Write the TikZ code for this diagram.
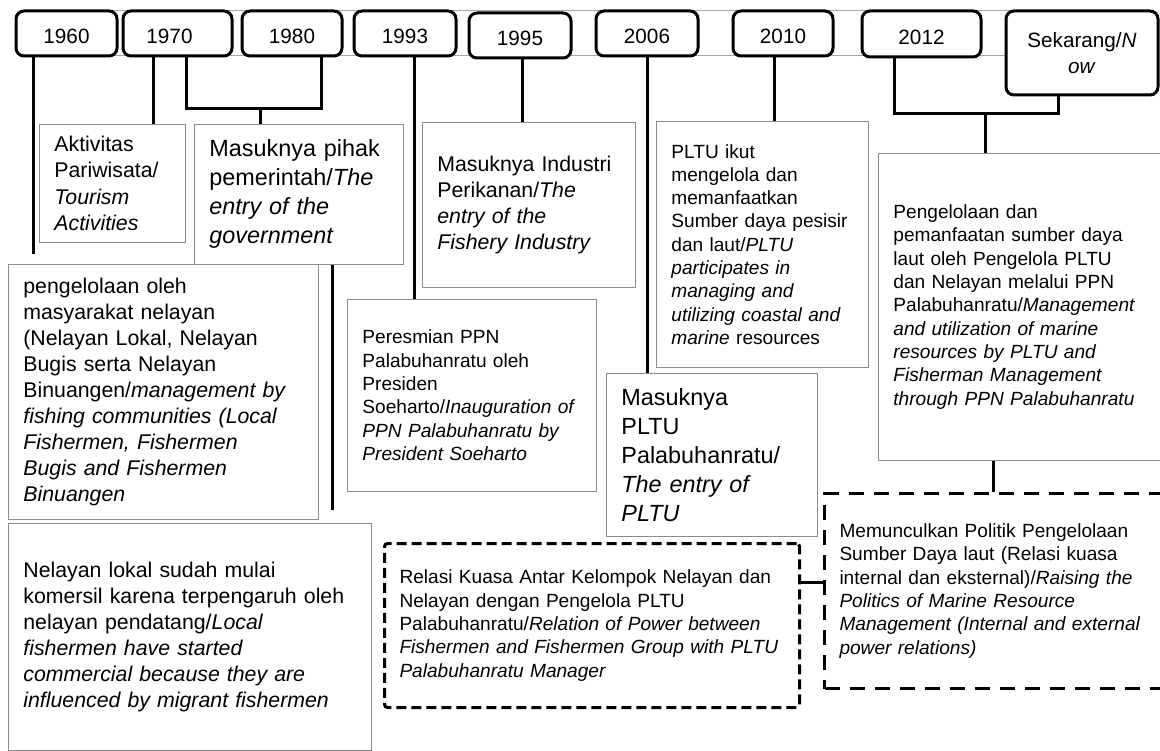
\documentclass[tikz,border=0pt]{standalone}
\usepackage{fontspec}
\setmainfont{Liberation Sans}
\newcommand{\yrfont}{\fontsize{20.7}{26}\selectfont}
\newcommand{\evsmall}{\fontsize{19.1}{23.3}\selectfont}
\newcommand{\evmid}{\fontsize{21.3}{26.1}\selectfont}
\newcommand{\evbig}{\fontsize{23.4}{29}\selectfont}

\begin{document}
\begin{tikzpicture}[
  x=1pt, y=-1pt,
  band/.style={draw=black!35, line width=0.8pt},
  yearbox/.style={draw, line width=3pt, rounded corners=8pt, fill=white, inner sep=0pt, font=\yrfont, align=center},
  yearnum/.style={yearbox, text height=21pt, text depth=0pt},
  eventbox/.style={draw=black!45, line width=0.8pt, fill=white, anchor=north west, inner xsep=15pt, inner ysep=0pt, align=left},
  dashbox/.style={eventbox, draw=black, line width=3pt, rounded corners=3pt},
  link/.style={line width=3pt}
]
\useasboundingbox (0,0) rectangle (1160,751);
\clip (0,0) rectangle (1160,751);

\draw[band] (60,10) rectangle (1010,55);

\node[yearnum, minimum width=101pt, minimum height=45pt] (y1960) at (66.5,33.5) {1960};
\node[yearnum, minimum width=109pt, minimum height=45pt] (y1970) at (177.5,33.5) {1970\hspace*{16pt}};
\node[yearnum, minimum width=100pt, minimum height=45pt] (y1980) at (292,33.5) {1980};
\node[yearnum, minimum width=102pt, minimum height=45pt] (y1993) at (405,33.5) {1993};
\node[yearnum, minimum width=102pt, minimum height=45pt] (y1995) at (520,35.5) {1995};
\node[yearnum, minimum width=102pt, minimum height=45pt] (y2006) at (647,33.5) {2006};
\node[yearnum, minimum width=100pt, minimum height=45pt] (y2010) at (783,33.5) {2010};
\node[yearnum, minimum width=119pt, minimum height=46pt] (y2012) at (921.5,34) {2012};
\node[yearbox, minimum width=152pt, minimum height=84pt] (ynow) at (1082,53) {Sekarang/\textit{N}\\\textit{ow}};

\node[eventbox, font=\evmid, text width=116pt, minimum width=146pt, minimum height=118pt] (aktivitas) at (39,124) {
  Aktivitas\\
  Pariwisata/\\
  \textit{Tourism}\\
  \textit{Activities}
};
\node[eventbox, font=\evbig, text width=179pt, minimum width=209pt, minimum height=140pt] (pihak) at (194,124) {
  Masuknya pihak\\
  pemerintah/\textit{The}\\
  \textit{entry of the}\\
  \textit{government}
};
\node[eventbox, font=\evmid, text width=280pt, minimum width=310pt, minimum height=255pt] (pengelola) at (8,264) {
  pengelolaan oleh\\
  masyarakat nelayan\\
  (Nelayan Lokal, Nelayan\\
  Bugis serta Nelayan\\
  Binuangen/\textit{management by}\\
  \textit{fishing communities (Local}\\
  \textit{Fishermen, Fishermen}\\
  \textit{Bugis and Fishermen}\\
  \textit{Binuangen}
};
\node[eventbox, font=\evmid, text width=333pt, minimum width=363pt, minimum height=227pt] (lokal) at (8,523) {
  Nelayan lokal sudah mulai\\
  komersil karena terpengaruh oleh\\
  nelayan pendatang/\textit{Local}\\
  \textit{fishermen have started}\\
  \textit{commercial because they are}\\
  \textit{influenced by migrant fishermen}
};
\node[eventbox, font=\evsmall, text width=219pt, minimum width=249pt, minimum height=192pt] (peresmian) at (347,299) {
  Peresmian PPN\\
  Palabuhanratu oleh\\
  Presiden\\
  Soeharto/\textit{Inauguration of}\\
  \textit{PPN Palabuhanratu by}\\
  \textit{President Soeharto}
};
\node[eventbox, font=\evmid, text width=183pt, minimum width=213pt, minimum height=165pt] (industri) at (422,122) {
  Masuknya Industri\\
  Perikanan/\textit{The}\\
  \textit{entry of the}\\
  \textit{Fishery Industry}
};
\node[eventbox, font=\evsmall, text width=182pt, minimum width=212pt, minimum height=246pt] (pltuikut) at (656,121) {
  PLTU ikut\\
  mengelola dan\\
  memanfaatkan\\
  Sumber daya pesisir\\
  dan laut/\textit{PLTU}\\
  \textit{participates in}\\
  \textit{managing and}\\
  \textit{utilizing coastal and}\\
  \textit{marine} resources
};
\node[eventbox, font=\evbig, text width=181pt, minimum width=211pt, minimum height=163pt] (pltumasuk) at (606,373) {
  Masuknya\\
  PLTU\\
  Palabuhanratu/\\
  \textit{The entry of}\\
  \textit{PLTU}
};
\node[eventbox, font=\evsmall, text width=262pt, minimum width=292pt, minimum height=307pt] (kelola) at (878,153) {
  Pengelolaan dan\\
  pemanfaatan sumber daya\\
  laut oleh Pengelola PLTU\\
  dan Nelayan melalui PPN\\
  Palabuhanratu/\textit{Management}\\
  \textit{and utilization of marine}\\
  \textit{resources by PLTU and}\\
  \textit{Fisherman Management}\\
  \textit{through PPN Palabuhanratu}
};
\node[dashbox, font=\evsmall, dash pattern=on 10pt off 5pt, text width=385pt, minimum width=415pt, minimum height=164pt] (relasi) at (383,542) {
  Relasi Kuasa Antar Kelompok Nelayan dan\\
  Nelayan dengan Pengelola PLTU\\
  Palabuhanratu/\textit{Relation of Power between}\\
  \textit{Fishermen and Fishermen Group with PLTU}\\
  \textit{Palabuhanratu Manager}\\[14pt]
};
\node[dashbox, font=\evsmall, dash pattern=on 15pt off 10pt, rounded corners=0pt, text width=317pt, minimum width=347pt, minimum height=195pt] (politik) at (823,492) {
  Memunculkan Politik Pengelolaan\\
  Sumber Daya laut (Relasi kuasa\\
  internal dan eksternal)/\textit{Raising the}\\
  \textit{Politics of Marine Resource}\\
  \textit{Management (Internal and external}\\
  \textit{power relations)}
};

\foreach \xx/\from/\to in {153/y1970/aktivitas, 414/y1993/peresmian, 522/y1995/industri, 647/y2006/pltumasuk, 774/y2010/pltuikut, 993/kelola/politik} {
  \coordinate (tmp) at (\xx,0);
  \draw[link] (tmp |- \from.south) -- (tmp |- \to.north);
}
\coordinate (k60) at (33,0);
\draw[link, shorten >=10pt] (k60 |- y1960.south) -- (k60 |- pengelola.north);
\coordinate (kpihak) at (332,0);
\draw[link, shorten >=13pt] (kpihak |- pihak.south) -- (kpihak |- lokal.north);

\coordinate (b70) at (186,0);
\coordinate (b80) at (321,0);
\coordinate (j7080) at (260,109);
\draw[link] (b70 |- y1970.south) |- (j7080) -| (b80 |- y1980.south);
\draw[link] (j7080) -- (j7080 |- pihak.north);

\coordinate (b12) at (894,0);
\coordinate (bnow) at (1058,0);
\coordinate (j12now) at (985,114);
\draw[link] (b12 |- y2012.south) |- (j12now) -| (bnow |- ynow.south);
\draw[link] (j12now) -- (j12now |- kelola.north);

\coordinate (hrel) at (0,582);
\draw[link] (relasi.east |- hrel) -- (politik.west |- hrel);
\end{tikzpicture}
\end{document}
